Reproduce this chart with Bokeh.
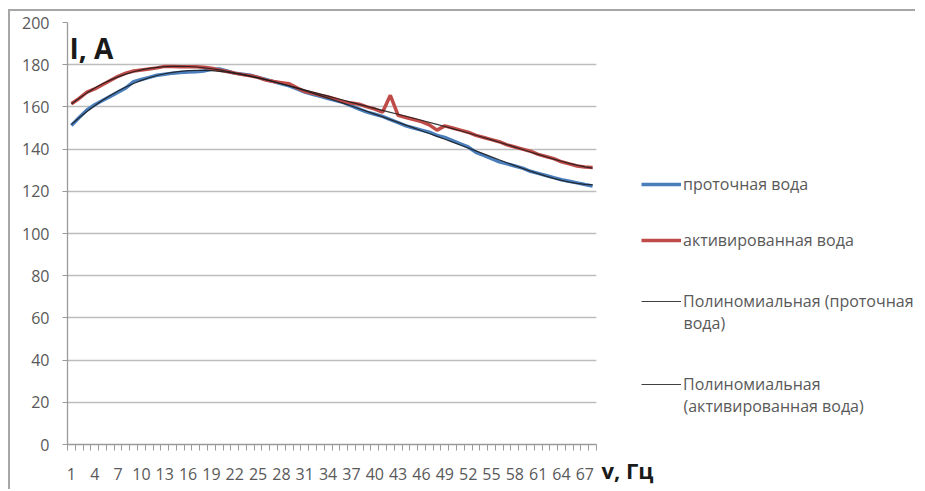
import numpy as np
from bokeh.plotting import figure
from bokeh.layouts import row
from bokeh.models import Range1d, FixedTicker, Legend, LegendItem, Label, ColumnDataSource
from bokeh.embed import file_html
from bokeh.resources import INLINE

# ---------------- data ----------------
freq = list(range(1, 69))
flow_water = [151.2, 155.0, 158.5, 161.0, 163.0, 165.0, 167.0, 169.0, 172.0, 173.0,
              174.0, 175.0, 175.5, 176.0, 176.3, 176.5, 176.6, 177.0, 177.8, 178.0,
              177.0, 176.0, 175.5, 175.0, 174.0, 173.0, 172.0, 171.0, 170.0, 168.5,
              167.0, 166.0, 165.0, 164.0, 163.0, 162.0, 160.5, 159.0, 157.5, 156.5,
              155.5, 154.0, 152.5, 151.0, 150.0, 149.0, 148.0, 146.5, 145.5, 144.0,
              142.5, 141.0, 138.5, 137.0, 135.5, 134.0, 133.0, 132.0, 131.0, 129.5,
              128.5, 127.5, 126.5, 125.5, 124.8, 124.0, 123.2, 122.5]
activated_water = [161.5, 164.0, 167.0, 168.5, 170.5, 172.5, 174.5, 176.0, 177.0, 177.5,
                   178.0, 178.5, 179.2, 179.2, 179.0, 179.0, 179.0, 178.8, 178.3, 177.5,
                   176.8, 176.0, 175.3, 174.8, 174.0, 172.7, 172.0, 171.5, 171.0, 169.0,
                   167.3, 166.5, 165.5, 164.7, 163.7, 162.5, 161.8, 161.3, 160.0, 159.0,
                   157.5, 165.5, 156.0, 155.0, 154.0, 153.0, 151.5, 149.0, 151.0, 150.0,
                   149.0, 148.0, 146.5, 145.5, 144.5, 143.5, 142.0, 141.0, 140.0, 139.0,
                   137.5, 136.5, 135.5, 134.0, 133.0, 132.0, 131.5, 131.3]
y_ticks = [0, 20, 40, 60, 80, 100, 120, 140, 160, 180, 200]
x_tick_labels = list(range(1, 68, 3))
# legend entries: first line / continuation line
series_names = ["проточная вода", "активированная вода",
                "Полиномиальная (проточная", "Полиномиальная"]
series_names_cont = [None, None, "вода)", "(активированная вода)"]
y_title = "I, A"
x_title = "v, Гц"

# polynomial (order 6) trendlines, as Excel computes them
fx = np.array(freq, dtype=float)
trend_flow = np.polynomial.Polynomial.fit(fx, flow_water, 6)(fx)
trend_act = np.polynomial.Polynomial.fit(fx, activated_water, 6)(fx)

src = ColumnDataSource(dict(x=freq, flow=flow_water, act=activated_water,
                            tflow=trend_flow, tact=trend_act))

FONT = "Open Sans"
TXT = "#595959"
BLUE = "#4a7ebb"
RED = "#be4b48"
TREND = "#1a1a1a"
H = 478

# ---------------- main chart ----------------
p = figure(width=589, height=H, output_backend="svg", toolbar_location=None,
           x_range=Range1d(0.5, len(freq) + 0.5), y_range=Range1d(y_ticks[0], y_ticks[-1]),
           min_border_left=57, min_border_right=3, min_border_top=11, min_border_bottom=45)
p.frame_align = False
p.outline_line_color = None
p.border_fill_color = "white"

p.line("x", "flow", source=src, line_color=BLUE, line_width=3.5)
p.line("x", "act", source=src, line_color=RED, line_width=3.5)
p.line("x", "tflow", source=src, line_color=TREND, line_width=1.2, line_alpha=0.85)
p.line("x", "tact", source=src, line_color=TREND, line_width=1.2, line_alpha=0.85)

p.xgrid.visible = False
p.ygrid.grid_line_color = "#bdbdbd"
p.ygrid.grid_line_width = 1.3
p.yaxis.ticker = FixedTicker(ticks=y_ticks)
p.xaxis.ticker = FixedTicker(ticks=x_tick_labels,
                             minor_ticks=[c - 0.5 for c in freq] + [freq[-1] + 0.5])
for ax in (p.xaxis[0], p.yaxis[0]):
    ax.axis_line_color = "#9a9a9a"
    ax.axis_line_width = 1.3
    ax.major_label_text_font = FONT
    ax.major_label_text_font_size = "16px"
    ax.major_label_text_color = TXT
ax = p.yaxis[0]
ax.major_tick_out = 5
ax.major_tick_in = 0
ax.major_tick_line_color = "#9a9a9a"
ax.minor_tick_line_color = None
ax.major_label_standoff = 13
ax = p.xaxis[0]
ax.major_tick_line_color = None
ax.major_tick_out = 0
ax.major_tick_in = 0
ax.minor_tick_out = 6
ax.minor_tick_in = 0
ax.minor_tick_line_color = "#9a9a9a"
ax.major_label_standoff = 17

p.add_layout(Label(x=0.76, y=187.7, text=y_title, text_font=FONT, text_font_style="bold",
                   text_font_size="28px", text_color="#1a1a1a", text_baseline="alphabetic"))

# ---------------- legend panel (pixel-unit figure) ----------------
W2 = 316
q = figure(width=W2, height=H, output_backend="svg", toolbar_location=None,
           x_range=Range1d(0, W2), y_range=Range1d(0, H), x_axis_type=None, y_axis_type=None,
           min_border=0, min_border_left=0, min_border_right=0, min_border_top=0,
           min_border_bottom=0)
q.frame_align = False
q.outline_line_color = None
q.grid.visible = False
q.border_fill_color = "white"
lr = [q.line("x", "flow", source=src, line_color=BLUE, line_width=3.5, visible=False),
      q.line("x", "act", source=src, line_color=RED, line_width=3.5, visible=False),
      q.line("x", "tflow", source=src, line_color="#404040", line_width=1.2, visible=False),
      q.line("x", "tact", source=src, line_color="#404040", line_width=1.2, visible=False)]
ys = [294, 238, 177, 94]
for name, cont, r, yy in zip(series_names, series_names_cont, lr, ys):
    lg = Legend(items=[LegendItem(label=name, renderers=[r])], location=(42, yy),
                glyph_width=40, glyph_height=20, label_height=20, label_standoff=2,
                padding=0, margin=0, spacing=0,
                border_line_alpha=0, background_fill_alpha=0,
                inactive_fill_alpha=0,
                label_text_font=FONT, label_text_font_size="16px",
                label_text_color=TXT)
    q.add_layout(lg)
    if cont:
        q.add_layout(Label(x=84, y=yy - 10, text=cont, text_font=FONT,
                           text_font_size="16px", text_color=TXT, text_baseline="middle"))

q.add_layout(Label(x=2, y=20, text=x_title, text_font=FONT, text_font_style="bold",
                   text_font_size="22px", text_color="#1a1a1a", text_baseline="alphabetic"))

layout = row(p, q, spacing=0)
layout.styles = {"border-left": "2px solid #a6a6a6", "border-top": "2px solid #a6a6a6",
                 "margin-left": "8px", "margin-top": "9px"}

open("out.html", "w").write(file_html(layout, INLINE))
